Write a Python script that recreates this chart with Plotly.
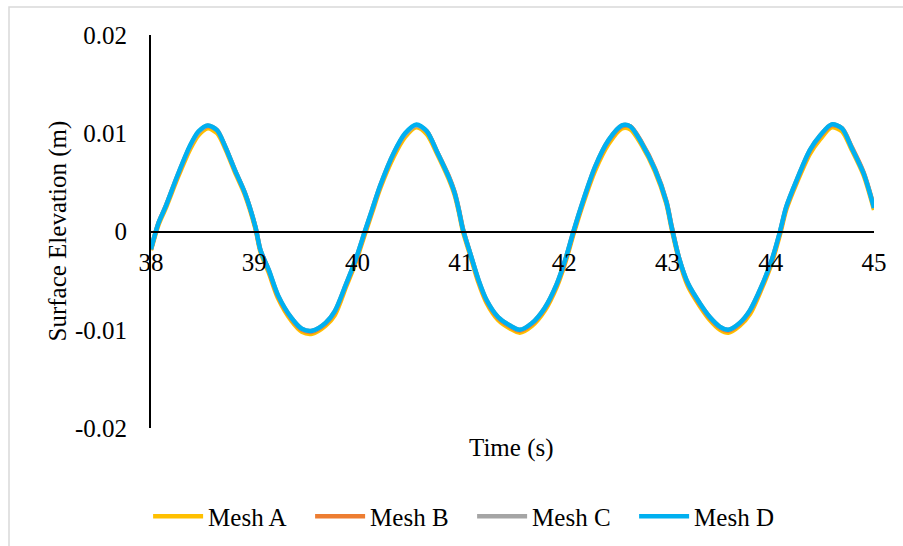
import plotly.graph_objects as go

time_s = [38.00, 38.07, 38.14, 38.26, 38.38, 38.46, 38.55, 38.64, 38.72, 38.81,
          38.91, 39.01, 39.06, 39.14, 39.23, 39.36, 39.46, 39.56, 39.69, 39.78,
          39.89, 39.98, 40.07, 40.14, 40.22, 40.35, 40.46, 40.57, 40.67, 40.77,
          40.88, 40.94, 40.98, 41.02, 41.09, 41.17, 41.25, 41.36, 41.48, 41.57,
          41.69, 41.81, 41.93, 42.01, 42.09, 42.17, 42.30, 42.43, 42.56, 42.64,
          42.75, 42.88, 42.99, 43.04, 43.11, 43.20, 43.32, 43.41, 43.51, 43.59,
          43.70, 43.80, 43.91, 44.01, 44.09, 44.15, 44.25, 44.38, 44.48, 44.59,
          44.69, 44.78, 44.90, 45.00]

mesh_d = [-0.0018, 0.0008, 0.0025, 0.0058, 0.0088, 0.0102, 0.0108, 0.0103, 0.0086, 0.0063,
          0.0039, 0.0005, -0.0019, -0.0039, -0.0065, -0.0088, -0.0099, -0.0101, -0.0093, -0.0081,
          -0.0053, -0.0029, 0.0000, 0.0022, 0.0047, 0.0080, 0.0100, 0.0109, 0.0102, 0.0081,
          0.0056, 0.0039, 0.0022, 0.0002, -0.0022, -0.0049, -0.0070, -0.0087, -0.0096, -0.0100,
          -0.0093, -0.0078, -0.0053, -0.0029, 0.0000, 0.0027, 0.0066, 0.0093, 0.0108, 0.0107,
          0.0090, 0.0063, 0.0030, 0.0005, -0.0026, -0.0053, -0.0074, -0.0087, -0.0097, -0.0100,
          -0.0093, -0.0080, -0.0056, -0.0029, 0.0000, 0.0025, 0.0052, 0.0083, 0.0098, 0.0109,
          0.0105, 0.0086, 0.0059, 0.0024]

mesh_a = [-0.0019, 0.0006, 0.0023, 0.0055, 0.0084, 0.0098, 0.0105, 0.0100, 0.0084, 0.0061,
          0.0037, 0.0003, -0.0021, -0.0042, -0.0068, -0.0091, -0.0102, -0.0104, -0.0096, -0.0085,
          -0.0056, -0.0032, -0.0003, 0.0019, 0.0044, 0.0076, 0.0096, 0.0106, 0.0099, 0.0079,
          0.0054, 0.0037, 0.0020, 0.0000, -0.0024, -0.0052, -0.0073, -0.0090, -0.0099, -0.0103,
          -0.0096, -0.0081, -0.0056, -0.0032, -0.0003, 0.0024, 0.0062, 0.0089, 0.0105, 0.0104,
          0.0088, 0.0061, 0.0028, 0.0003, -0.0028, -0.0056, -0.0077, -0.0090, -0.0100, -0.0103,
          -0.0096, -0.0084, -0.0059, -0.0032, -0.0003, 0.0022, 0.0049, 0.0079, 0.0094, 0.0106,
          0.0102, 0.0084, 0.0057, 0.0022]

mesh_b = [-0.0018, 0.0008, 0.0025, 0.0057, 0.0087, 0.0101, 0.0107, 0.0103, 0.0086, 0.0063,
          0.0039, 0.0005, -0.0019, -0.0040, -0.0066, -0.0089, -0.0100, -0.0102, -0.0094, -0.0082,
          -0.0054, -0.0030, -0.0001, 0.0021, 0.0046, 0.0079, 0.0099, 0.0108, 0.0102, 0.0081,
          0.0057, 0.0040, 0.0023, 0.0003, -0.0022, -0.0050, -0.0071, -0.0088, -0.0097, -0.0101,
          -0.0094, -0.0079, -0.0054, -0.0030, -0.0001, 0.0026, 0.0065, 0.0092, 0.0107, 0.0107,
          0.0091, 0.0064, 0.0031, 0.0006, -0.0026, -0.0054, -0.0075, -0.0088, -0.0098, -0.0101,
          -0.0094, -0.0081, -0.0057, -0.0030, -0.0001, 0.0024, 0.0051, 0.0082, 0.0097, 0.0108,
          0.0105, 0.0087, 0.0060, 0.0025]

mesh_c = [-0.0018, 0.0008, 0.0025, 0.0058, 0.0087, 0.0101, 0.0108, 0.0103, 0.0086, 0.0063,
          0.0039, 0.0005, -0.0019, -0.0039, -0.0065, -0.0088, -0.0099, -0.0101, -0.0093, -0.0081,
          -0.0053, -0.0029, 0.0000, 0.0022, 0.0047, 0.0080, 0.0099, 0.0108, 0.0102, 0.0081,
          0.0056, 0.0039, 0.0022, 0.0002, -0.0022, -0.0049, -0.0070, -0.0087, -0.0096, -0.0100,
          -0.0093, -0.0078, -0.0053, -0.0029, 0.0000, 0.0027, 0.0066, 0.0093, 0.0108, 0.0107,
          0.0090, 0.0063, 0.0030, 0.0005, -0.0026, -0.0053, -0.0074, -0.0087, -0.0097, -0.0100,
          -0.0093, -0.0080, -0.0056, -0.0029, 0.0000, 0.0025, 0.0052, 0.0083, 0.0098, 0.0109,
          0.0105, 0.0086, 0.0059, 0.0024]

series_names = ["Mesh A", "Mesh B", "Mesh C", "Mesh D"]
series_values = [mesh_a, mesh_b, mesh_c, mesh_d]
series_colors = ["#FFC000", "#ED7D31", "#A5A5A5", "#00B0F0"]

x_ticks = [38, 39, 40, 41, 42, 43, 44, 45]
y_ticks = [-0.02, -0.01, 0, 0.01, 0.02]
y_tick_labels = ["-0.02", "-0.01", "0", "0.01", "0.02"]

FONT = "Liberation Serif, Times New Roman, serif"
FS = 25

fig = go.Figure()
for name, vals, col in zip(series_names, series_values, series_colors):
    fig.add_trace(go.Scatter(
        x=time_s, y=vals, name=name, mode="lines",
        line=dict(color=col, width=4.5, shape="spline", smoothing=0.8),
    ))

fig.update_layout(
    width=903, height=546,
    margin=dict(l=151, r=29, t=35, b=118, autoexpand=False),
    paper_bgcolor="white", plot_bgcolor="white",
    font=dict(family=FONT, size=FS, color="black"),
    showlegend=True,
    legend=dict(orientation="h", x=-0.004, xanchor="left", y=-0.225, yanchor="middle",
                font=dict(family=FONT, size=FS, color="black"),
                itemwidth=50, entrywidth=97, entrywidthmode="pixels",
                bgcolor="rgba(0,0,0,0)"),
    xaxis=dict(range=[38, 45], tickvals=x_ticks, ticktext=[str(v) for v in x_ticks],
               showgrid=False, zeroline=False, showline=True, linecolor="black", linewidth=2,
               ticks="", anchor="free", position=0.5, ticklabelstandoff=8,
               tickfont=dict(family=FONT, size=FS, color="black")),
    yaxis=dict(range=[-0.02, 0.02], tickvals=y_ticks, ticktext=y_tick_labels,
               showgrid=False, zeroline=False, showline=True, linecolor="black", linewidth=2,
               ticks="", ticklabelstandoff=17,
               tickfont=dict(family=FONT, size=FS, color="black")),
    annotations=[
        dict(text="Time (s)", xref="paper", yref="paper", x=0.4986, y=-0.051,
             xanchor="center", yanchor="middle", showarrow=False,
             font=dict(family=FONT, size=FS, color="black")),
        dict(text="Surface Elevation (m)", xref="paper", yref="paper", x=-0.130, y=0.5,
             xanchor="center", yanchor="middle", textangle=-90, showarrow=False,
             font=dict(family=FONT, size=FS, color="black")),
    ],
    shapes=[
        dict(type="rect", xref="paper", yref="paper", x0=-0.1964, x1=1.06, y0=-0.34, y1=1.0712,
             line=dict(color="#D9D9D9", width=1.5), fillcolor="rgba(0,0,0,0)", layer="below"),
    ],
)

fig.write_html("out.html")
